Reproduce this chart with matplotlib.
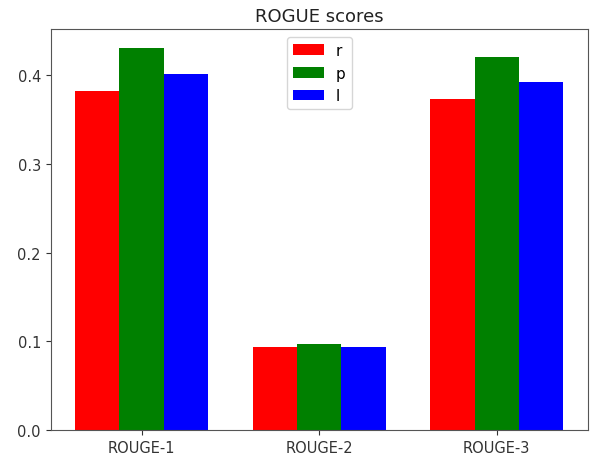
import numpy as np
import matplotlib
matplotlib.use("Agg")
import matplotlib.pyplot as plt

categories = ["ROUGE-1", "ROUGE-2", "ROUGE-3"]
r_scores = [0.382, 0.0934, 0.3727]
p_scores = [0.430, 0.0971, 0.420]
l_scores = [0.4016, 0.0937, 0.3926]

fig = plt.figure(figsize=(6.02, 4.77), dpi=100)
ax = fig.add_axes([0.0842, 0.0958, 0.8921, 0.8407])

x = np.arange(len(categories))
width = 0.25
ax.bar(x - width, r_scores, width, color="red", label="r")
ax.bar(x, p_scores, width, color="green", label="p")
ax.bar(x + width, l_scores, width, color="blue", label="l")

ax.set_xticks(x)
ax.set_xticklabels(categories)
ax.tick_params(labelsize=10.5, colors="#333333")
ax.set_title("ROGUE scores", fontsize=13, color="#222222")
ax.legend(loc="upper center", fontsize=11)

for s in ax.spines.values():
    s.set_color("#555555")

fig.savefig("out.png", dpi=100)
